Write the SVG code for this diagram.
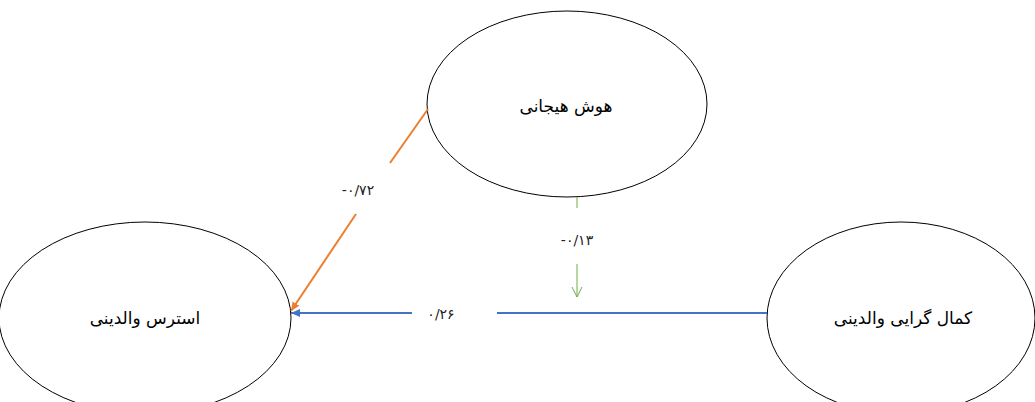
<svg xmlns="http://www.w3.org/2000/svg" width="1035" height="402" viewBox="0 0 1035 402">
<style>
.node{fill:#fff;stroke:#000;stroke-width:1}
.lbl{font-family:"DejaVu Sans",sans-serif;font-size:17px;fill:#000;text-anchor:middle;dominant-baseline:central}
.num{font-family:"DejaVu Sans",sans-serif;font-size:14px;fill:#222;text-anchor:middle;dominant-baseline:central}
</style>
<defs>
<marker id="aO" markerWidth="10" markerHeight="10" refX="9" refY="5" orient="auto" markerUnits="userSpaceOnUse"><path d="M0,1 L9,5 L0,9 Z" fill="#ED7D31"/></marker>
<marker id="aB" markerWidth="10" markerHeight="10" refX="9" refY="5" orient="auto" markerUnits="userSpaceOnUse"><path d="M0,1 L9,5 L0,9 Z" fill="#4472C4"/></marker>
<marker id="aG" markerWidth="12" markerHeight="12" refX="10" refY="6" orient="auto" markerUnits="userSpaceOnUse"><path d="M0,1 L10,6 L0,11" fill="none" stroke="#70AD47" stroke-width="1"/></marker>
</defs>
<g id="node-hoosh">
<ellipse class="node" cx="567" cy="104" rx="140" ry="93"/>
<text class="lbl" x="566" y="106" direction="rtl">هوش هیجانی</text>
</g>
<g id="node-stress">
<ellipse class="node" cx="145" cy="318" rx="146" ry="96"/>
<text class="lbl" x="145" y="318" direction="rtl">استرس والدینی</text>
</g>
<g id="node-kamal">
<ellipse class="node" cx="901" cy="318" rx="134" ry="96"/>
<text class="lbl" x="903" y="318" direction="rtl">کمال گرایی والدینی</text>
</g>
<g id="connectors">
<line x1="428" y1="109" x2="390" y2="163" stroke="#ED7D31" stroke-width="2"/>
<line x1="356" y1="214" x2="291" y2="311" stroke="#ED7D31" stroke-width="2" marker-end="url(#aO)"/>
<text class="num" x="358" y="190" direction="ltr" unicode-bidi="bidi-override">-۰/۷۲</text>
<line x1="577" y1="197" x2="577" y2="208" stroke="#70AD47" stroke-width="1"/>
<line x1="577" y1="264" x2="577" y2="297" stroke="#70AD47" stroke-width="1" marker-end="url(#aG)"/>
<text class="num" x="577" y="240" direction="ltr" unicode-bidi="bidi-override">-۰/۱۳</text>
<line x1="767" y1="313" x2="497" y2="313" stroke="#4472C4" stroke-width="2"/>
<line x1="412" y1="313" x2="291" y2="313" stroke="#4472C4" stroke-width="2" marker-end="url(#aB)"/>
<text class="num" x="441" y="314" direction="ltr" unicode-bidi="bidi-override">۰/۲۶</text>
</g>
</svg>
